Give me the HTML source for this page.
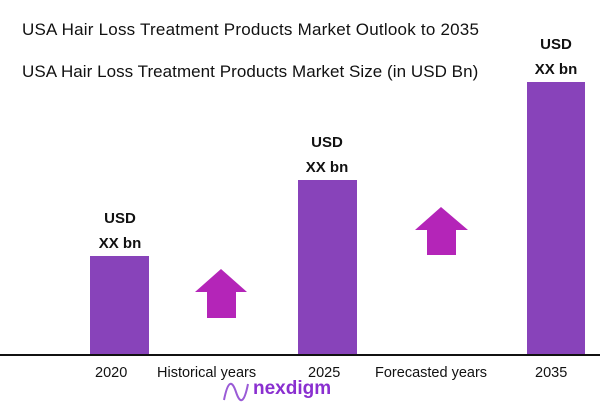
<!DOCTYPE html>
<html><head><style>
body{margin:0;width:615px;height:416px;background:#fff;position:relative;overflow:hidden;font-family:"Liberation Sans",sans-serif;color:#111}
.t{position:absolute;left:22px;font-size:17px;white-space:nowrap}
.bar{position:absolute;background:#8843BA}
.v{position:absolute;font-weight:bold;font-size:15px;text-align:center;width:80px;line-height:25px}
.l{position:absolute;font-size:14.5px;top:365px;white-space:nowrap}
</style></head><body>
<div class="t" style="top:20px;letter-spacing:0.22px">USA Hair Loss Treatment Products Market Outlook to 2035</div>
<div class="t" style="top:62px;letter-spacing:0.05px">USA Hair Loss Treatment Products Market Size (in USD Bn)</div>
<div class="bar" style="left:90px;width:59px;top:256px;height:99px"></div>
<div class="bar" style="left:298px;width:59px;top:180px;height:175px"></div>
<div class="bar" style="left:527px;width:58px;top:82px;height:273px"></div>
<div class="v" style="left:80px;top:206px">USD<br>XX bn</div>
<div class="v" style="left:287px;top:130px">USD<br>XX bn</div>
<div class="v" style="left:516px;top:32px">USD<br>XX bn</div>
<svg style="position:absolute;left:0;top:0" width="615" height="416">
<polygon points="221,269 247,292 236,292 236,318 207,318 207,292 195,292" fill="#B425B8"/>
<polygon points="441,207 468,230 456,230 456,255 427,255 427,230 415,230" fill="#B425B8"/>
<line x1="0" y1="355" x2="600" y2="355" stroke="#111" stroke-width="2"/>
<path d="M224,400 C228,380 232,380 236,392 C240,404 244,404 248,384" stroke="#9a5bd6" stroke-width="2" fill="none"/>
</svg>
<div class="l" style="left:95px">2020</div>
<div class="l" style="left:157px">Historical years</div>
<div class="l" style="left:308px">2025</div>
<div class="l" style="left:375px">Forecasted years</div>
<div class="l" style="left:535px">2035</div>
<div style="position:absolute;left:253px;top:378px;font-size:19px;font-weight:bold;color:#8a2fd0">nexdigm</div>
</body></html>
